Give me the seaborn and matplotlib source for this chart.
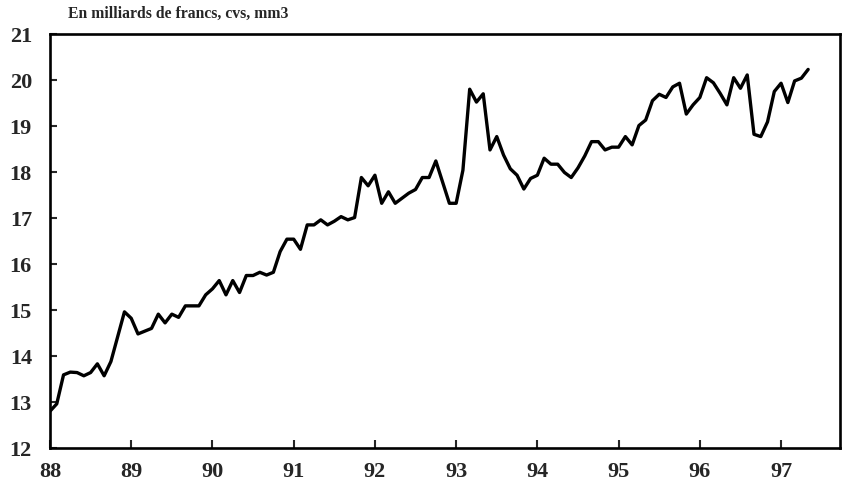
import numpy as np
import pandas as pd
import matplotlib
matplotlib.use("Agg")
import matplotlib.pyplot as plt
import seaborn as sns

# monthly values, Jan 1988 -> May 1997 (milliards de francs, cvs, mm3)
start_year = 88
values = [
    12.80, 12.96, 13.59, 13.65, 13.64, 13.57, 13.64, 13.83, 13.57, 13.88, 14.42, 14.96,
    14.82, 14.48, 14.54, 14.60, 14.91, 14.72, 14.91, 14.84, 15.09, 15.09, 15.09, 15.33,
    15.46, 15.64, 15.33, 15.64, 15.38, 15.75, 15.75, 15.82, 15.76, 15.82, 16.27, 16.54,
    16.54, 16.32, 16.85, 16.85, 16.96, 16.85, 16.93, 17.03, 16.96, 17.01, 17.88, 17.70,
    17.93, 17.32, 17.57, 17.32, 17.43, 17.54, 17.62, 17.88, 17.88, 18.24, 17.78, 17.32,
    17.32, 18.04, 19.80, 19.52, 19.70, 18.48, 18.77, 18.37, 18.07, 17.93, 17.63, 17.86,
    17.93, 18.30, 18.17, 18.17, 17.99, 17.88, 18.09, 18.35, 18.66, 18.66, 18.48, 18.54,
    18.54, 18.77, 18.59, 19.01, 19.13, 19.55, 19.69, 19.62, 19.85, 19.93, 19.26, 19.46,
    19.62, 20.05, 19.94, 19.71, 19.46, 20.05, 19.82, 20.11, 18.82, 18.77, 19.09, 19.75,
    19.93, 19.51, 19.98, 20.04, 20.23,
]
year_ticks = list(range(88, 98))
y_ticks = list(range(12, 22))
unit_label = "En milliards de francs, cvs, mm3"

df = pd.DataFrame({
    "t": start_year + np.arange(len(values)) / 12.0,
    "v": values,
})

sns.set_style("white")
plt.rcParams["font.family"] = ["Liberation Serif", "DejaVu Serif"]
plt.rcParams["font.weight"] = "bold"

fig = plt.figure(figsize=(8.43, 4.9), dpi=100)
ax = fig.add_axes([0.0593, 0.0857, 0.9371, 0.8449])

sns.lineplot(data=df, x="t", y="v", ax=ax, color="black", linewidth=2.4)

ax.set_xlim(88, 88 + 116.7 / 12)
ax.set_ylim(12, 21)
ax.set_xticks(year_ticks)
ax.set_xticklabels([str(y) for y in year_ticks])
ax.set_yticks(y_ticks)
ax.set_yticklabels([str(y) for y in y_ticks])

for s in ax.spines.values():
    s.set_visible(True)
    s.set_color("black")
    s.set_linewidth(1.9)

ax.tick_params(axis="x", direction="in", length=6, width=1.5, pad=10,
               labelsize=16, top=False, bottom=True)
ax.tick_params(axis="y", direction="in", length=5, width=1.5, pad=13,
               labelsize=16, left=True, right=False)
for lab in ax.get_xticklabels() + ax.get_yticklabels():
    lab.set_fontweight("bold")

ax.set_xlabel("")
ax.set_ylabel("")
ax.grid(False)

fig.text(68 / 843, 1 - 14 / 490, unit_label, ha="left", va="center",
         fontsize=11.3, fontweight="bold")

fig.savefig("out.png", dpi=100)
